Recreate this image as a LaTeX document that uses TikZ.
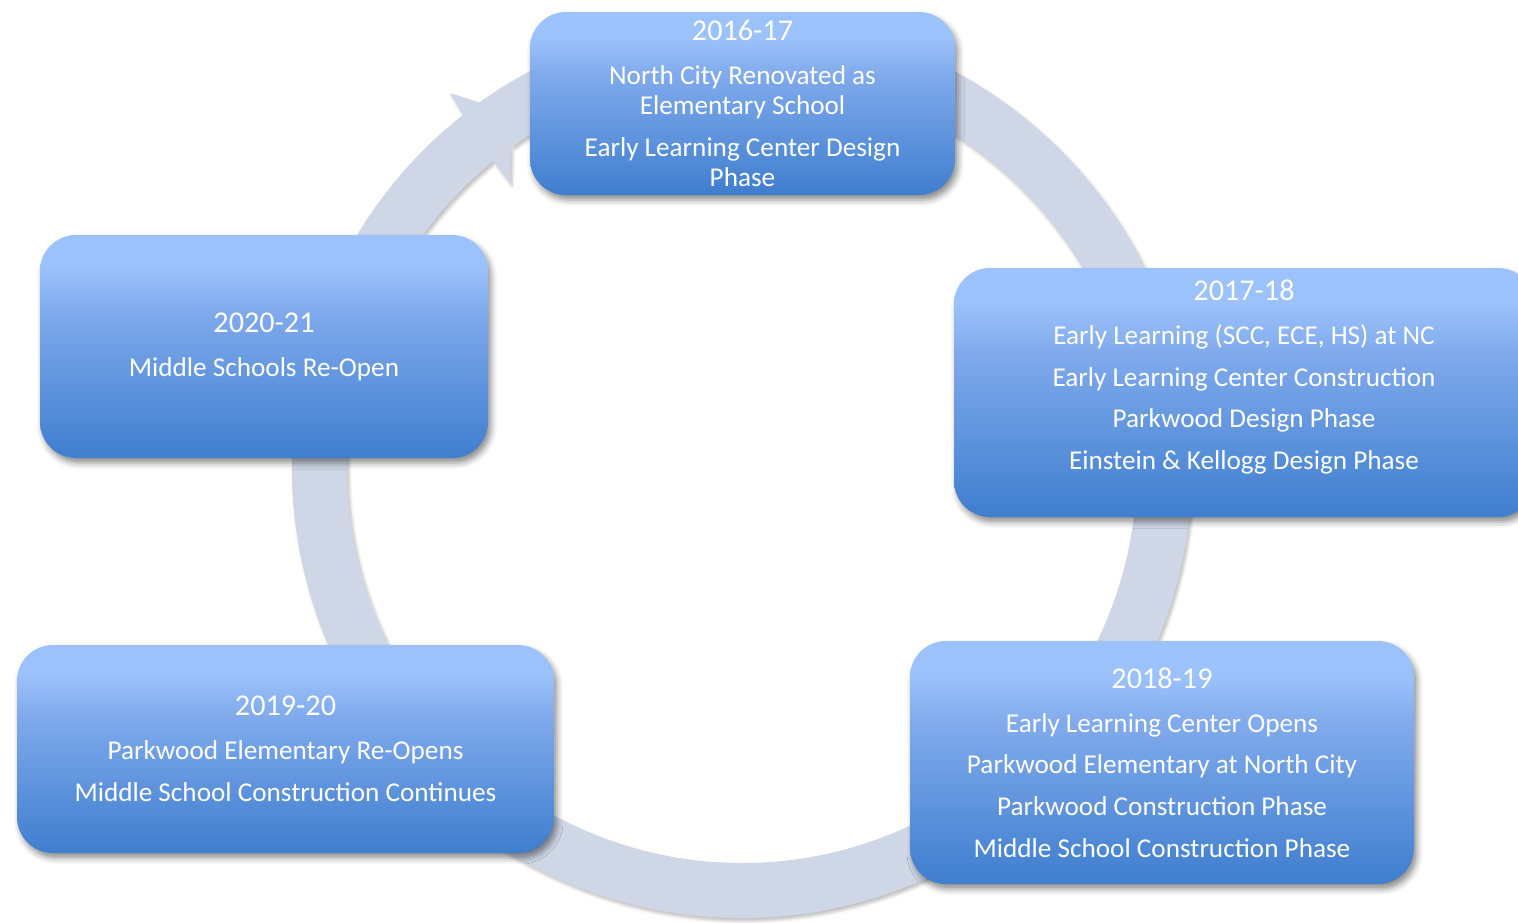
\documentclass[tikz,border=0pt]{standalone}
\usepackage{fontspec}
\setmainfont{Carlito}
\usetikzlibrary{shadows.blur}

\definecolor{ringgrey}{HTML}{CFD7E6}
\definecolor{boxlight}{HTML}{9CC2FB}
\definecolor{boxmid}{HTML}{80AAEC}
\definecolor{boxdark}{HTML}{3F7ECE}
\pgfdeclareverticalshading{yearfade}{100bp}{color(0bp)=(boxdark); color(25bp)=(boxdark); color(58bp)=(boxmid); color(68bp)=(boxlight); color(100bp)=(boxlight)}

\newcommand{\yearline}[1]{{\fontsize{15.1}{20.85}\selectfont #1}}

\begin{document}
\begin{tikzpicture}[x=0.5pt, y=0.5pt,
    yearbox/.style={rectangle, rounded corners=18pt, shading=yearfade, text=white,
        align=center, inner sep=0pt, font=\fontsize{13.6}{20.85}\selectfont,
        blur shadow={shadow xshift=1.5pt, shadow yshift=-2.5pt, shadow blur radius=3pt, shadow opacity=45}},
    ring/.style={fill=ringgrey,
        blur shadow={shadow xshift=1pt, shadow yshift=-1.5pt, shadow blur radius=1.5pt, shadow opacity=25}}]
    \useasboundingbox (0,0) rectangle (1518,-922);

    % Cycle arrow behind the boxes
    \coordinate (hub) at (742,-468);
    \begin{scope}[shift={(hub)}]
        \fill[ring] (129:395) arc[start angle=129, end angle=-250, radius=395]
            -- (-250:450) arc[start angle=-250, end angle=128.3, radius=450]
            -- (-292,375) -- (-230,355) -- (-232,285) -- cycle;
    \end{scope}

    % School years
    \node (y1617) [yearbox, minimum width=212.5pt, minimum height=91.5pt] at (742.5,-103.5)
        {\yearline{2016-17}\\[1.15pt]
         North City Renovated as\\[-5.85pt] Elementary School\\[0.15pt]
         Early Learning Center Design\\[-5.85pt] Phase};
    \node (y1718) [yearbox, minimum width=290pt, minimum height=124.5pt, text depth=17.7pt] at (1244,-392.5)
        {\yearline{2017-18}\\[1.15pt]
         Early Learning (SCC, ECE, HS) at NC\\
         Early Learning Center Construction\\
         Parkwood Design Phase\\
         Einstein \& Kellogg Design Phase};
    \node (y1819) [yearbox, minimum width=252pt, minimum height=121.5pt] at (1162,-762.5)
        {\yearline{2018-19}\\[1.15pt]
         Early Learning Center Opens\\
         Parkwood Elementary at North City\\
         Parkwood Construction Phase\\
         Middle School Construction Phase};
    \node (y1920) [yearbox, minimum width=268.5pt, minimum height=104pt] at (285.5,-749)
        {\yearline{2019-20}\\[1.15pt]
         Parkwood Elementary Re-Opens\\
         Middle School Construction Continues};
    \node (y2021) [yearbox, minimum width=224pt, minimum height=111.5pt] at (264,-346.5)
        {\yearline{2020-21}\\[1.15pt]
         Middle Schools Re-Open};
\end{tikzpicture}
\end{document}
